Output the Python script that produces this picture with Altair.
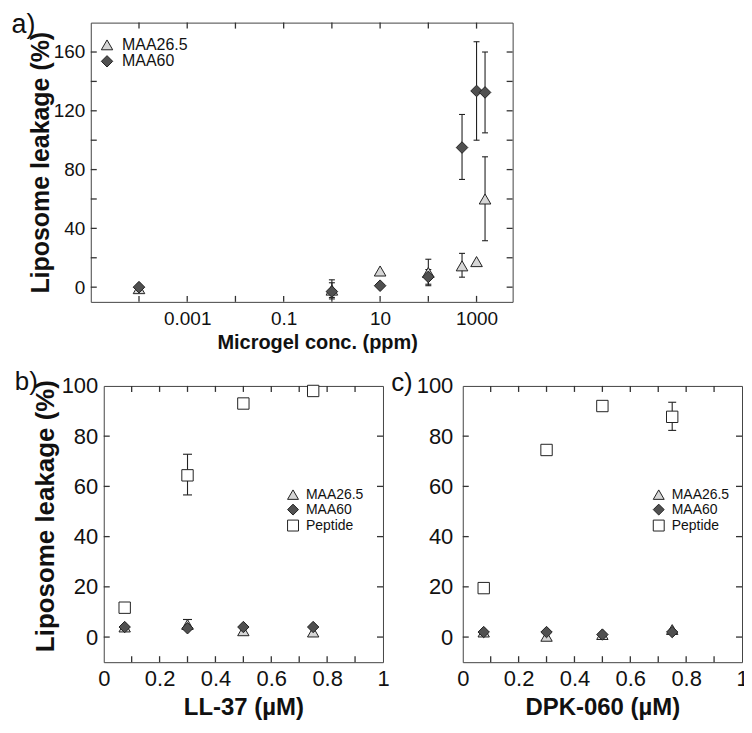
import altair as alt
import pandas as pd

FONT = "Liberation Sans"
INK = "#222222"
FRAME = "#444444"
TXT = "#111111"
TICKCOL = "#333333"

# ---------------- data ----------------
series_names = ["MAA26.5", "MAA60", "Peptide"]
series_fill = ["#d6d6d6", "#505050", "#ffffff"]
series_shape = ["triangle-up", "diamond", "square"]

# Panel a: microgel concentration (ppm)
a_conc = [1e-4, 1, 10, 100, 500, 1000, 1500]
a_maa265 = [-1, -2, 11, 10, 14.5, 17.4, 60]
a_maa265_lo = [None, -7, None, 1, 6.8, None, 31.6]
a_maa265_hi = [None, 3, None, 19, 23, None, 88.7]
a_maa60 = [0, -3, 1, 7, 95, 133.5, 132.5]
a_maa60_lo = [None, -8, None, 2, 73.3, 100, 105]
a_maa60_hi = [None, 5, None, 12, 117.5, 167, 160]
a_xticks = [1e-4, 1e-3, 1e-2, 1e-1, 1, 10, 100, 1000]
a_yticks = [0, 20, 40, 60, 80, 100, 120, 140, 160]
a_xlabels = [0.001, 0.1, 10, 1000]
a_ylabels = [0, 40, 80, 120, 160]

# Panel b: LL-37 (uM)
b_conc = [0.075, 0.3, 0.5, 0.75]
b_maa265 = [4, 5, 2.5, 2]
b_maa265_lo = [None, 3, None, None]
b_maa265_hi = [None, 7, None, None]
b_maa60 = [4, 3.5, 4, 4]
b_maa60_lo = [None, None, None, None]
b_maa60_hi = [None, None, None, None]
b_pep = [11.7, 64.4, 93, 98]
b_pep_lo = [None, 56.6, None, None]
b_pep_hi = [None, 72.8, None, None]

# Panel c: DPK-060 (uM)
c_conc = [0.075, 0.3, 0.5, 0.75]
c_maa265 = [2, 0.3, 1, 3]
c_maa265_lo = [None, None, None, None]
c_maa265_hi = [None, None, None, None]
c_maa60 = [2, 2, 1, 2]
c_maa60_lo = [None, None, None, None]
c_maa60_hi = [None, None, None, None]
c_pep = [19.5, 74.5, 92, 87.7]
c_pep_lo = [None, None, None, 82.3]
c_pep_hi = [None, None, None, 93.5]

bc_xticks = [0.1, 0.2, 0.3, 0.4, 0.5, 0.6, 0.7, 0.8, 0.9]
bc_yticks = [0, 20, 40, 60, 80]
bc_xlabels = [0, 0.2, 0.4, 0.6, 0.8, 1]
bc_ylabels = [0, 20, 40, 60, 80, 100]


def table(xs, groups):
    rows = []
    for name, ys, los, his in groups:
        for x, y, lo, hi in zip(xs, ys, los, his):
            rows.append({"x": x, "y": y, "lo": lo, "hi": hi, "series": name})
    return pd.DataFrame(rows)


df_a = table(a_conc, [("MAA26.5", a_maa265, a_maa265_lo, a_maa265_hi),
                      ("MAA60", a_maa60, a_maa60_lo, a_maa60_hi)])
df_b = table(b_conc, [("MAA26.5", b_maa265, b_maa265_lo, b_maa265_hi),
                      ("MAA60", b_maa60, b_maa60_lo, b_maa60_hi),
                      ("Peptide", b_pep, b_pep_lo, b_pep_hi)])
df_c = table(c_conc, [("MAA26.5", c_maa265, c_maa265_lo, c_maa265_hi),
                      ("MAA60", c_maa60, c_maa60_lo, c_maa60_hi),
                      ("Peptide", c_pep, c_pep_lo, c_pep_hi)])

TICK = 6


def label_axis(text, lx, ly, size):
    # invisible axis used only to carry the panel letter
    return alt.Axis(orient="bottom", offset=0, labels=False, ticks=False, domain=False,
                    grid=False, title=text, titleX=lx, titleY=ly, titleAngle=0,
                    titleAlign="left", titleBaseline="alphabetic", titleFontSize=size,
                    titleFontWeight="normal", titleColor=TXT, titleFont=FONT,
                    titlePadding=0)


def panel(df, nseries, xscale, yscale, W, H, xaxis, yaxis, xticks, yticks,
          legend, label, pt_size, cap):
    base = alt.Chart(df)
    dom = series_names[:nseries]

    def X(axis, field="x"):
        return alt.X(f"{field}:Q", scale=xscale, axis=axis)

    def Y(field, axis):
        return alt.Y(f"{field}:Q", scale=yscale, axis=axis)

    errs = base.transform_filter("isValid(datum.lo)")
    rule = errs.mark_rule(color=INK, strokeWidth=1.1).encode(
        x=X(None), y=Y("lo", None), y2="hi:Q")
    cap_lo = errs.mark_tick(orient="horizontal", size=cap, thickness=1.1,
                            color=INK, opacity=1).encode(x=X(None), y=Y("lo", None))
    cap_hi = errs.mark_tick(orient="horizontal", size=cap, thickness=1.1,
                            color=INK, opacity=1).encode(x=X(None), y=Y("hi", None))
    pts = base.mark_point(filled=True, strokeWidth=1, opacity=1,
                          size=pt_size).encode(
        x=X(xaxis), y=Y("y", yaxis),
        fill=alt.Fill("series:N", scale=alt.Scale(domain=dom, range=series_fill[:nseries]),
                      legend=legend),
        shape=alt.Shape("series:N", scale=alt.Scale(domain=dom, range=series_shape[:nseries]),
                        legend=legend),
        stroke=alt.Stroke("series:N", scale=alt.Scale(domain=dom, range=[INK] * nseries),
                          legend=legend),
    )
    # inward ticks on all four sides, drawn from the tick-value lists
    xt = alt.Chart(pd.DataFrame({"t": xticks}))
    yt = alt.Chart(pd.DataFrame({"t": yticks}))
    tick_kw = dict(color=TICKCOL, strokeWidth=1.3, opacity=1)
    t_bottom = xt.mark_rule(**tick_kw).encode(
        x=X(None, "t"), y=alt.value(H), y2=alt.value(H - TICK))
    t_top = xt.mark_rule(**tick_kw).encode(
        x=X(None, "t"), y=alt.value(0), y2=alt.value(TICK))
    t_left = yt.mark_rule(**tick_kw).encode(
        y=Y("t", None), x=alt.value(0), x2=alt.value(TICK))
    t_right = yt.mark_rule(**tick_kw).encode(
        y=Y("t", None), x=alt.value(W), x2=alt.value(W - TICK))
    lab, lx, ly, ls = label
    lab_ax = label_axis(lab, lx, ly - H, ls)
    carrier = base.mark_point(opacity=0).encode(x=X(lab_ax), y=Y("y", None))
    return alt.layer(rule, cap_lo, cap_hi, pts, t_bottom, t_top, t_left, t_right,
                     carrier).resolve_scale(
        x="independent", y="independent").properties(width=W, height=H)


# ---------------- panel a ----------------
WA, HA = 423, 280
pa = panel(
    df_a, 2,
    alt.Scale(type="log", domain=[1e-5, 5600], nice=False),
    alt.Scale(domain=[-10, 180], nice=False, zero=False),
    WA, HA,
    alt.Axis(orient="bottom", values=a_xlabels, format="~g", ticks=False,
             tickSize=0, domain=False, grid=False, labelFontSize=19, labelPadding=7.5,
             labelFlush=False, labelOverlap=False, labelColor=TXT,
             title="Microgel conc. (ppm)", titleFontSize=20, titleFontWeight="bold",
             titleColor=TXT, titleX=227, titleY=47, titleAlign="center",
             titleBaseline="alphabetic"),
    alt.Axis(orient="left", values=a_ylabels, ticks=False, tickSize=0,
             domain=False, grid=False, labelFontSize=19, labelPadding=6,
             labelFlush=False, labelOverlap=False, labelColor=TXT,
             title="Liposome leakage (%)", titleFontSize=25, titleFontWeight="bold",
             titleColor=TXT, titleAngle=270, titleX=-42, titleY=140, titleAlign="center",
             titleBaseline="alphabetic"),
    a_xticks, a_yticks,
    alt.Legend(title=None, orient="none", legendX=8.3, legendY=14.3, padding=0,
               rowPadding=0.5, symbolSize=130, labelFontSize=16, labelOffset=7,
               symbolStrokeWidth=1, labelColor=TXT, labelFont=FONT),
    ("a)", -80, 10.3, 27),
    135, 6,
)

# ---------------- panels b, c ----------------
WB, HB = 280, 277


def bc_xaxis(title):
    return alt.Axis(orient="bottom", values=bc_xlabels, format="~g",
                    ticks=False, tickSize=0, domain=False, grid=False, labelFontSize=22,
                    labelPadding=6, labelFlush=False, labelOverlap=False, labelColor=TXT,
                    title=title, titleFontSize=24, titleFontWeight="bold",
                    titleColor=TXT, titleY=52, titleBaseline="alphabetic")


def bc_yaxis(title, pad):
    kw = dict(orient="left", values=bc_ylabels, ticks=False, tickSize=0,
              domain=False, grid=False, labelFontSize=22, labelPadding=pad,
              labelFlush=False, labelOverlap=False, labelColor=TXT)
    if title:
        kw.update(title=title, titleFontSize=26, titleFontWeight="bold",
                  titleColor=TXT, titleAngle=270, titleX=-50, titleY=130,
                  titleAlign="center", titleBaseline="alphabetic")
    else:
        kw.update(title=None)
    return alt.Axis(**kw)


def bc_legend(lx, ly):
    return alt.Legend(title=None, orient="none", legendX=lx, legendY=ly, padding=0,
                      rowPadding=0, symbolSize=120, labelFontSize=14, labelOffset=6,
                      symbolStrokeWidth=1, labelColor=TXT, labelFont=FONT)


pb = panel(
    df_b, 3,
    alt.Scale(domain=[0, 1], nice=False, zero=False),
    alt.Scale(domain=[-10, 100], nice=False, zero=False),
    WB, HB,
    bc_xaxis("LL-37 (µM)"), bc_yaxis("Liposome leakage (%)", 6),
    bc_xticks, bc_yticks,
    bc_legend(182.8, 102),
    ("b)", -89.7, 4, 26),
    130, 9,
)

pc = panel(
    df_c, 3,
    alt.Scale(domain=[0, 1], nice=False, zero=False),
    alt.Scale(domain=[-10, 100], nice=False, zero=False),
    WB, HB,
    bc_xaxis("DPK-060 (µM)"), bc_yaxis(None, 10),
    bc_xticks, bc_yticks,
    bc_legend(189.5, 102),
    ("c)", -72.3, 5, 26),
    130, 8,
)

spacer = alt.Chart(pd.DataFrame({"v": [0]})).mark_point(opacity=0).encode(
    x=alt.X("v:Q", axis=None), y=alt.Y("v:Q", axis=None)
).properties(width=12.7, height=20, view=alt.ViewBackground(stroke="transparent"))

legend_res = dict(fill="independent", shape="independent", stroke="independent")
inner = alt.hconcat(pb, pc, spacing=80, bounds="flush").resolve_scale(**legend_res)
row = alt.hconcat(spacer, inner, spacing=0, bounds="flush").resolve_scale(**legend_res)
chart = alt.vconcat(pa, row, spacing=84.3, bounds="flush").resolve_scale(
    **legend_res
).properties(
    padding={"left": 2, "top": 0.7, "right": -5, "bottom": 0},
    background="white",
).configure_view(
    stroke=FRAME, strokeWidth=1
).configure_axis(
    labelFont=FONT, titleFont=FONT
).configure_legend(
    labelFont=FONT
)

chart.save("out.html", embed_options={"renderer": "svg", "actions": False})
